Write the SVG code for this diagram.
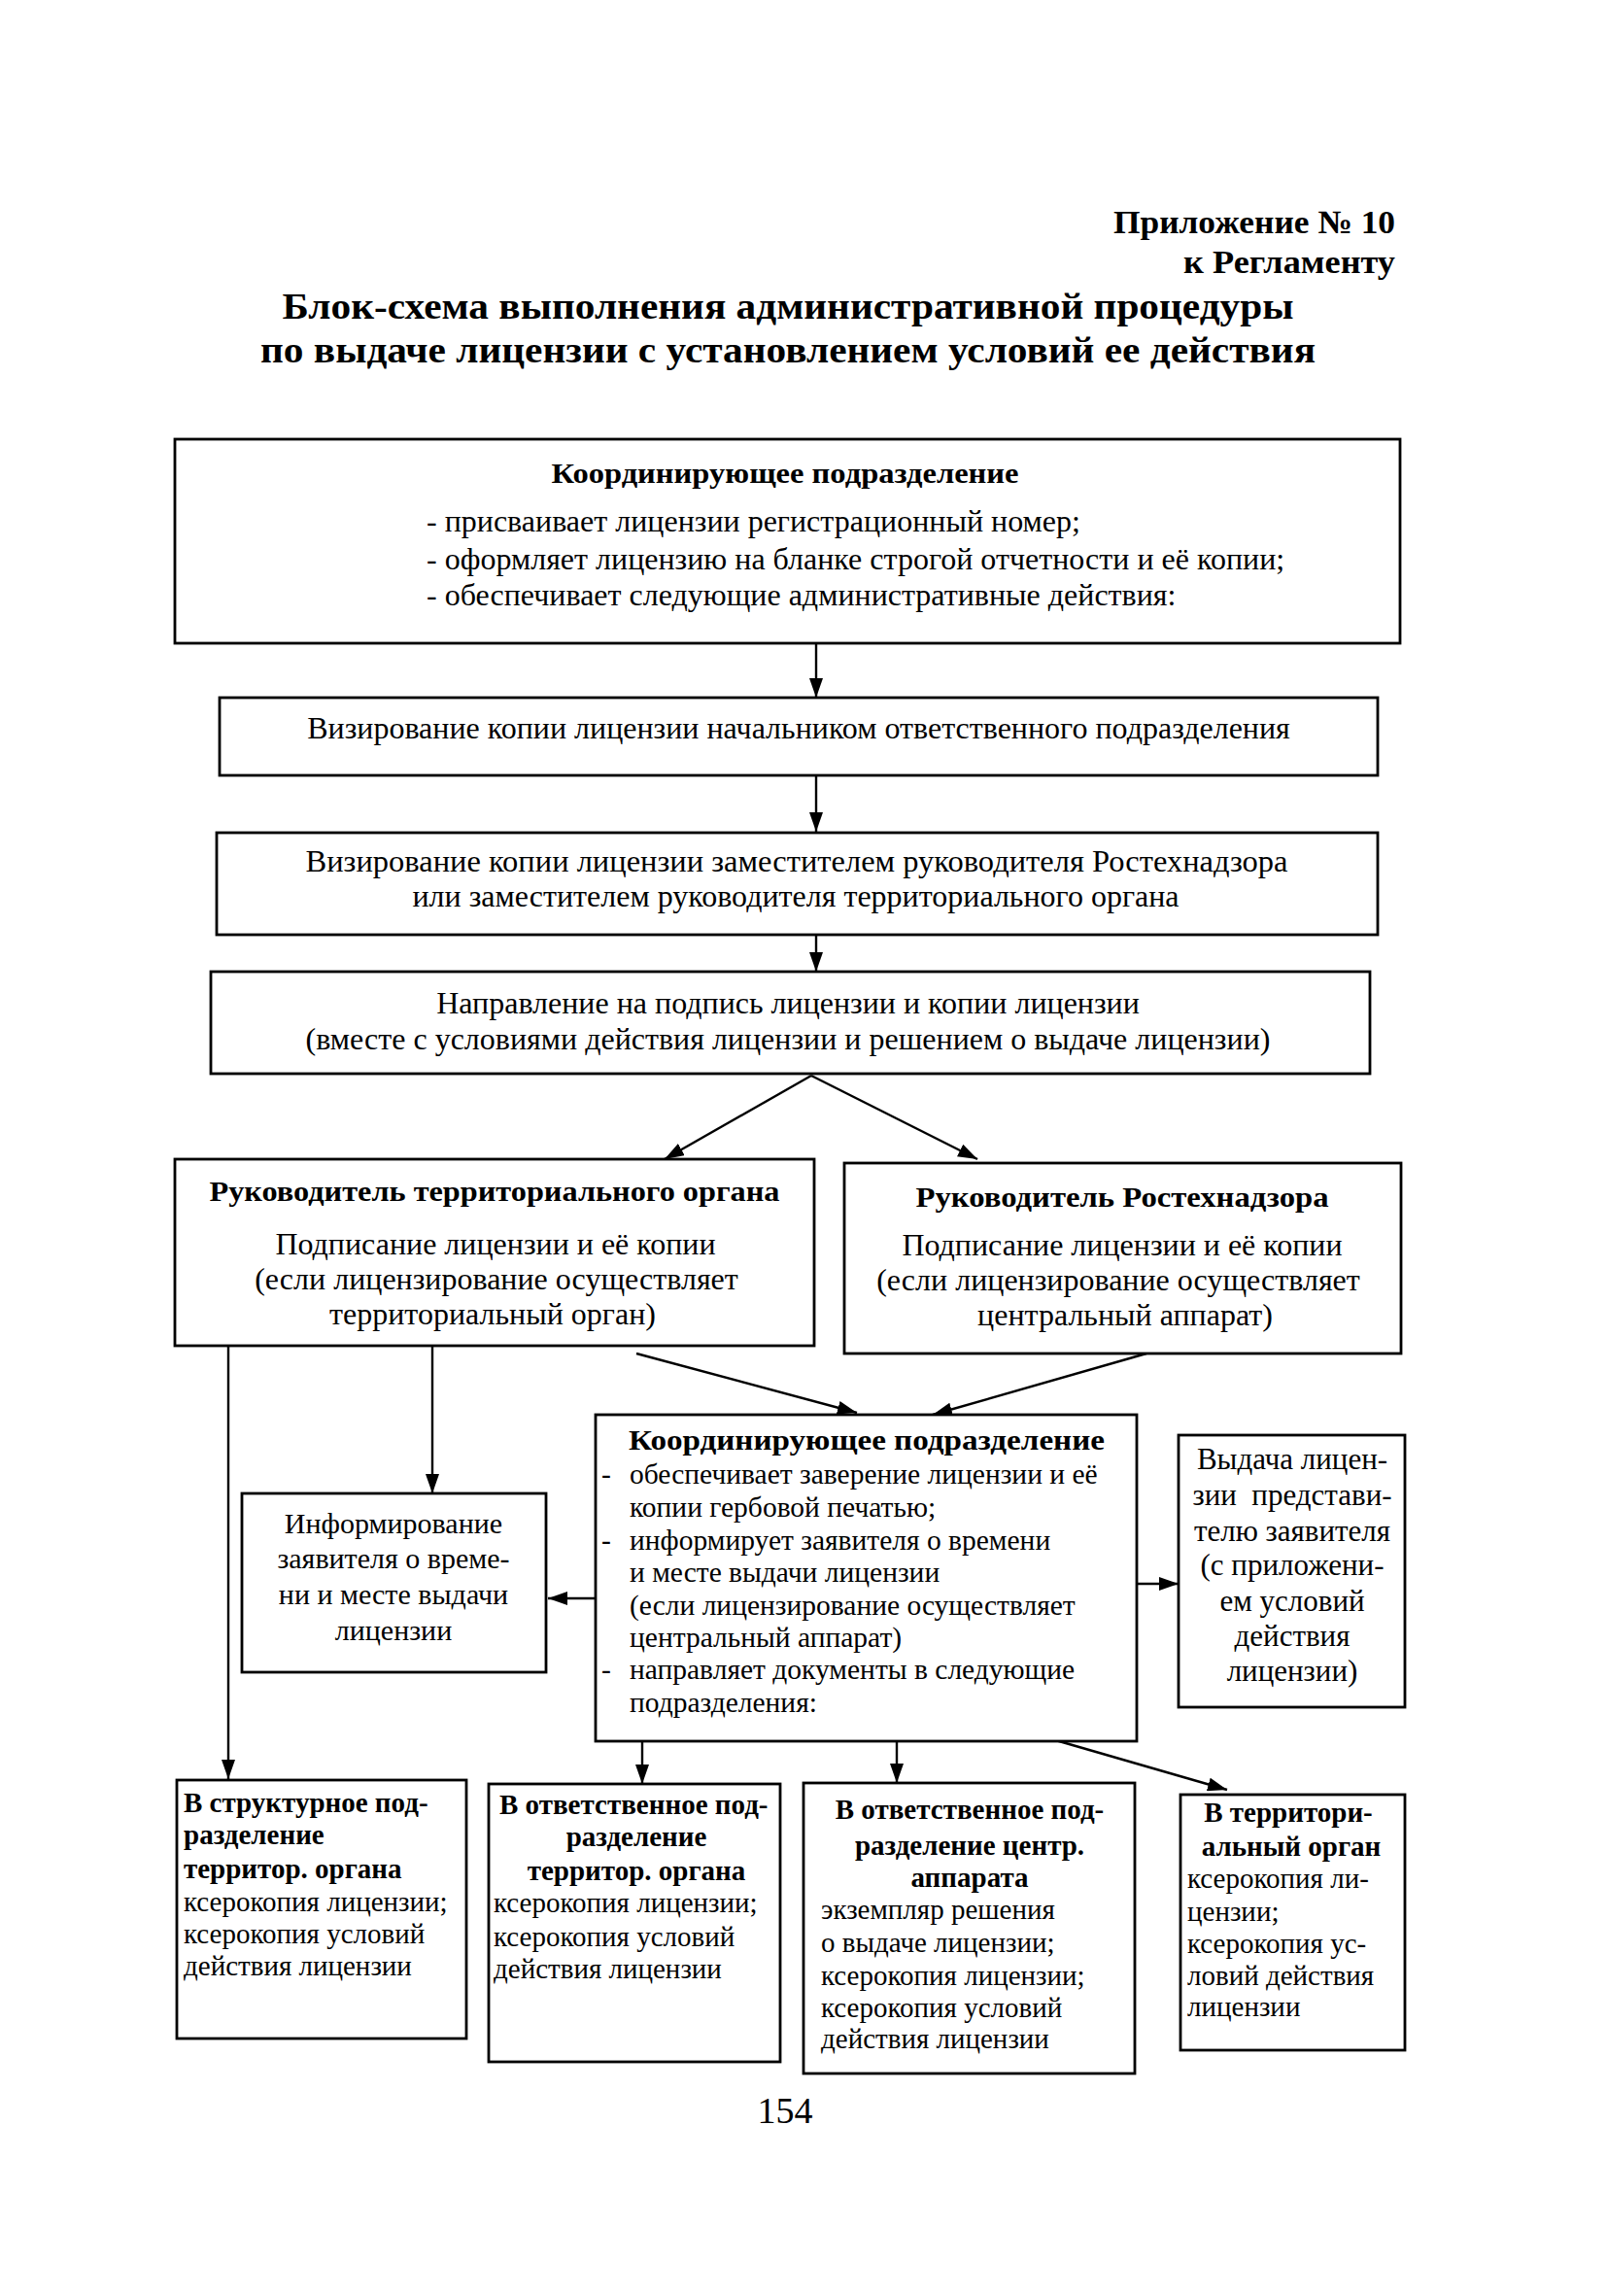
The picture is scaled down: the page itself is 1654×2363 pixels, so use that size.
<svg xmlns="http://www.w3.org/2000/svg" width="1654" height="2363" viewBox="0 0 1654 2363">
<defs>
<marker id="ah" viewBox="0 0 20 14" refX="20" refY="7" markerWidth="20" markerHeight="14" markerUnits="userSpaceOnUse" orient="auto">
<path d="M0,0 L20,7 L0,14 z" fill="#000"/>
</marker>
</defs>
<style>
text{font-family:"Liberation Serif","Times New Roman",serif;fill:#000}
.b{font-weight:bold}
.t{font-size:32px}
.c{font-size:29.5px}
.s{font-size:29px}
.m{text-anchor:middle}
.e{text-anchor:end}
.box{fill:#fff;stroke:#000;stroke-width:2.8}
.ar{stroke:#000;stroke-width:2.4;fill:none;marker-end:url(#ah)}
</style>
<rect x="0" y="0" width="1654" height="2363" fill="#fff"/>

<g id="header">
<text x="1436" y="240" class="b e" font-size="34" textLength="290" lengthAdjust="spacingAndGlyphs">Приложение № 10</text>
<text x="1436" y="281" class="b e" font-size="34" textLength="218" lengthAdjust="spacingAndGlyphs">к Регламенту</text>
<text x="811" y="328" class="b m" font-size="38" textLength="1041" lengthAdjust="spacingAndGlyphs">Блок-схема выполнения административной процедуры</text>
<text x="811" y="373" class="b m" font-size="38" textLength="1086" lengthAdjust="spacingAndGlyphs">по выдаче лицензии с установлением условий ее действия</text>
</g>

<g id="connectors">
<line class="ar" x1="840" y1="662" x2="840" y2="718"/>
<line class="ar" x1="840" y1="798" x2="840" y2="856"/>
<line class="ar" x1="840" y1="962" x2="840" y2="1000"/>
<line class="ar" x1="835" y1="1107" x2="684" y2="1193"/>
<line class="ar" x1="835" y1="1107" x2="1006" y2="1193"/>
<line class="ar" x1="655" y1="1393" x2="882" y2="1454"/>
<line class="ar" x1="1180" y1="1393" x2="960" y2="1456"/>
<line class="ar" x1="235" y1="1385" x2="235" y2="1831"/>
<line class="ar" x1="445" y1="1385" x2="445" y2="1537"/>
<line class="ar" x1="613" y1="1645" x2="564" y2="1645"/>
<line class="ar" x1="1170" y1="1630" x2="1213" y2="1630"/>
<line class="ar" x1="661" y1="1792" x2="661" y2="1836"/>
<line class="ar" x1="923" y1="1792" x2="923" y2="1835"/>
<line class="ar" x1="1083" y1="1790" x2="1263" y2="1842"/>
</g>

<g id="n1">
<rect class="box" x="180" y="452" width="1261" height="210"/>
<text x="808" y="497" class="b m" font-size="30" textLength="481" lengthAdjust="spacingAndGlyphs">Координирующее подразделение</text>
<text x="439" y="547" class="t">- присваивает лицензии регистрационный номер;</text>
<text x="439" y="586" class="t">- оформляет лицензию на бланке строгой отчетности и её копии;</text>
<text x="439" y="623" class="t">- обеспечивает следующие административные действия:</text>
</g>

<g id="n2">
<rect class="box" x="226" y="718" width="1192" height="80"/>
<text x="822" y="760" class="t m">Визирование копии лицензии начальником ответственного подразделения</text>
</g>

<g id="n3">
<rect class="box" x="223" y="857" width="1195" height="105"/>
<text x="820" y="897" class="t m" textLength="1011" lengthAdjust="spacingAndGlyphs">Визирование копии лицензии заместителем руководителя Ростехнадзора</text>
<text x="819" y="933" class="t m">или заместителем руководителя территориального органа</text>
</g>

<g id="n4">
<rect class="box" x="217" y="1000" width="1193" height="105"/>
<text x="811" y="1043" class="t m">Направление на подпись лицензии и копии лицензии</text>
<text x="811" y="1080" class="t m">(вместе с условиями действия лицензии и решением о выдаче лицензии)</text>
</g>

<g id="n5">
<rect class="box" x="180" y="1193" width="658" height="192"/>
<text x="509" y="1236" class="b m" font-size="30" textLength="587" lengthAdjust="spacingAndGlyphs">Руководитель территориального органа</text>
<text x="510" y="1291" class="t m">Подписание лицензии и её копии</text>
<text x="511" y="1327" class="t m">(если лицензирование осуществляет</text>
<text x="507" y="1363" class="t m">территориальный орган)</text>
</g>

<g id="n6">
<rect class="box" x="869" y="1197" width="573" height="196"/>
<text x="1155" y="1242" class="b m" font-size="30" textLength="425" lengthAdjust="spacingAndGlyphs">Руководитель Ростехнадзора</text>
<text x="1155" y="1292" class="t m">Подписание лицензии и её копии</text>
<text x="1151" y="1328" class="t m">(если лицензирование осуществляет</text>
<text x="1158" y="1364" class="t m">центральный аппарат)</text>
</g>

<g id="n7">
<rect class="box" x="613" y="1456" width="557" height="336"/>
<text x="892" y="1492" class="b m" font-size="29" textLength="490" lengthAdjust="spacingAndGlyphs">Координирующее подразделение</text>
<text x="619" y="1527" class="c">-</text>
<text x="648" y="1527" class="c">обеспечивает заверение лицензии и её</text>
<text x="648" y="1561" class="c">копии гербовой печатью;</text>
<text x="619" y="1595" class="c">-</text>
<text x="648" y="1595" class="c">информирует заявителя о времени</text>
<text x="648" y="1628" class="c">и месте выдачи лицензии</text>
<text x="648" y="1662" class="c">(если лицензирование осуществляет</text>
<text x="648" y="1695" class="c">центральный аппарат)</text>
<text x="619" y="1728" class="c">-</text>
<text x="648" y="1728" class="c">направляет документы в следующие</text>
<text x="648" y="1762" class="c">подразделения:</text>
</g>

<g id="n8">
<rect class="box" x="249" y="1537" width="313" height="184"/>
<text x="405" y="1578" class="m" font-size="30">Информирование</text>
<text x="405" y="1614" class="m" font-size="30">заявителя о време-</text>
<text x="405" y="1651" class="m" font-size="30">ни и месте выдачи</text>
<text x="405" y="1688" class="m" font-size="30">лицензии</text>
</g>

<g id="n9">
<rect class="box" x="1213" y="1477" width="233" height="280"/>
<text x="1330" y="1512" class="m" font-size="31">Выдача лицен-</text>
<text x="1330" y="1549" class="m" font-size="31" xml:space="preserve">зии  представи-</text>
<text x="1330" y="1586" class="m" font-size="31">телю заявителя</text>
<text x="1330" y="1621" class="m" font-size="31">(с приложени-</text>
<text x="1330" y="1658" class="m" font-size="31">ем условий</text>
<text x="1330" y="1694" class="m" font-size="31">действия</text>
<text x="1330" y="1730" class="m" font-size="31">лицензии)</text>
</g>

<g id="n10">
<rect class="box" x="182" y="1832" width="298" height="266"/>
<text x="189" y="1865" class="s b">В структурное под-</text>
<text x="189" y="1898" class="s b">разделение</text>
<text x="189" y="1933" class="s b">территор. органа</text>
<text x="189" y="1967" class="s">ксерокопия лицензии;</text>
<text x="189" y="2000" class="s">ксерокопия условий</text>
<text x="189" y="2033" class="s">действия лицензии</text>
</g>

<g id="n11">
<rect class="box" x="503" y="1836" width="300" height="286"/>
<text x="514" y="1867" class="s b">В ответственное под-</text>
<text x="655" y="1900" class="s b m">разделение</text>
<text x="655" y="1935" class="s b m">территор. органа</text>
<text x="508" y="1968" class="s">ксерокопия лицензии;</text>
<text x="508" y="2003" class="s">ксерокопия условий</text>
<text x="508" y="2036" class="s">действия лицензии</text>
</g>

<g id="n12">
<rect class="box" x="827" y="1835" width="341" height="299"/>
<text x="998" y="1872" class="s b m">В ответственное под-</text>
<text x="998" y="1909" class="s b m">разделение центр.</text>
<text x="998" y="1942" class="s b m">аппарата</text>
<text x="845" y="1975" class="s">экземпляр решения</text>
<text x="845" y="2009" class="s">о выдаче лицензии;</text>
<text x="845" y="2043" class="s">ксерокопия лицензии;</text>
<text x="845" y="2076" class="s">ксерокопия условий</text>
<text x="845" y="2108" class="s">действия лицензии</text>
</g>

<g id="n13">
<rect class="box" x="1215" y="1847" width="231" height="263"/>
<text x="1326" y="1875" class="s b m">В территори-</text>
<text x="1329" y="1910" class="s b m">альный орган</text>
<text x="1222" y="1943" class="s">ксерокопия ли-</text>
<text x="1222" y="1977" class="s">цензии;</text>
<text x="1222" y="2010" class="s">ксерокопия ус-</text>
<text x="1222" y="2043" class="s">ловий действия</text>
<text x="1222" y="2075" class="s">лицензии</text>
</g>

<g id="footer">
<text x="808" y="2185" class="m" font-size="38">154</text>
</g>
</svg>
